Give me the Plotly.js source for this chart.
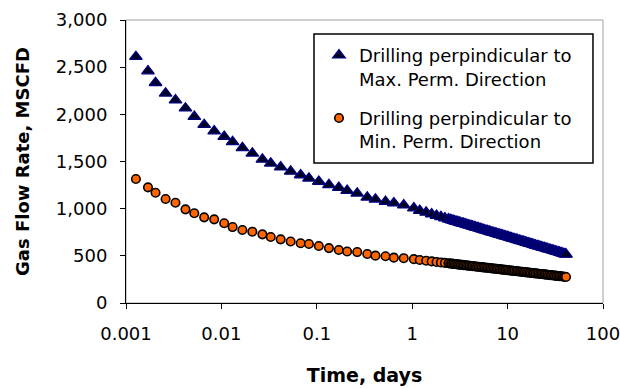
<!DOCTYPE html>
<html>
<head>
<meta charset="utf-8">
<script src="https://cdn.plot.ly/plotly-3.0.1.min.js"></script>
<style>html,body{margin:0;padding:0;background:#fff;}#chart{width:620px;height:389px;}</style>
</head>
<body>
<div id="chart"></div>
<script>
// Time, days (shared by both series)
var timeDays = [0.00127, 0.0017, 0.00204, 0.0026, 0.0033, 0.0042, 0.0052, 0.0066, 0.0084, 0.0107,
  0.0131, 0.0166, 0.0211, 0.0269, 0.0329, 0.0418, 0.0532, 0.0677, 0.0827, 0.105,
  0.134, 0.17, 0.208, 0.265, 0.338, 0.412, 0.525, 0.642, 0.815, 1.04,
  1.2, 1.4, 1.6, 1.8, 2, 2.2, 2.4,
  2.5, 2.59, 2.69, 2.79, 2.89, 3.0, 3.11, 3.22, 3.34, 3.46, 3.59, 3.72, 3.86, 4.0, 4.15, 4.3, 4.46, 4.62, 4.79, 4.97,
  5.15, 5.34, 5.54, 5.74, 5.95, 6.17, 6.4, 6.63, 6.88, 7.13, 7.39, 7.66, 7.95, 8.24, 8.54, 8.86, 9.18, 9.52, 9.87,
  10.2, 10.6, 11.0, 11.4, 11.8, 12.3, 12.7, 13.2, 13.7, 14.2, 14.7, 15.2, 15.8, 16.4, 17.0, 17.6, 18.3, 18.9, 19.6,
  20.4, 21.1, 21.9, 22.7, 23.5, 24.4, 25.3, 26.2, 27.2, 28.2, 29.2, 30.3, 31.4, 32.6, 33.8, 35.0, 36.3, 37.6, 39.0, 40.0, 41.0];

// Gas flow rate, MSCFD - drilling perpendicular to max. perm. direction
var rateMax = [2611, 2459, 2335, 2223, 2150, 2065, 1975, 1890, 1823, 1763,
  1708, 1645, 1587, 1522, 1481, 1440, 1395, 1357, 1322, 1288,
  1253, 1224, 1192, 1163, 1120, 1099, 1074, 1060, 1037, 1006,
  980, 960, 942, 927, 913, 900, 889,
  883, 879, 874, 869, 864, 860, 855, 850, 845, 841, 836, 831, 826, 822, 817, 812, 807, 803, 798, 793,
  788, 784, 779, 774, 769, 764, 760, 755, 750, 745, 741, 736, 731, 726, 722, 717, 712, 707, 703,
  698, 693, 688, 684, 679, 674, 669, 665, 660, 655, 650, 646, 641, 636, 631, 627, 622, 617, 612,
  607, 603, 598, 593, 588, 584, 579, 574, 569, 565, 560, 555, 550, 546, 541, 536, 531, 527, 522, 519, 515];

// Gas flow rate, MSCFD - drilling perpendicular to min. perm. direction
var rateMin = [1314, 1226, 1169, 1102, 1063, 993, 951, 908, 887, 845,
  805, 774, 756, 728, 700, 675, 652, 633, 625, 604,
  582, 562, 546, 540, 519, 502, 496, 481, 475, 465,
  456, 448, 441, 435, 430, 425, 421,
  418, 417, 415, 413, 411, 409, 407, 406, 404, 402, 400, 398, 396, 395, 393, 391, 389, 387, 385, 384,
  382, 380, 378, 376, 374, 373, 371, 369, 367, 365, 363, 362, 360, 358, 356, 354, 352, 351, 349,
  347, 345, 343, 341, 340, 338, 336, 334, 332, 330, 329, 327, 325, 323, 321, 319, 318, 316, 314,
  312, 310, 308, 307, 305, 303, 301, 299, 297, 296, 294, 292, 290, 288, 286, 285, 283, 281, 279, 278, 276];

var seriesNames = ["Drilling perpindicular to<br>Max. Perm. Direction",
                   "Drilling perpindicular to<br>Min. Perm. Direction"];

var xTickVals = [0.001, 0.01, 0.1, 1, 10, 100];
var xTickText = ["0.001", "0.01", "0.1", "1", "10", "100"];
var yTickVals = [0, 500, 1000, 1500, 2000, 2500, 3000];

var FONT = "DejaVu Sans, Liberation Sans, Arial, sans-serif";

var traces = [
  {
    type: "scatter", mode: "markers", name: seriesNames[0], legendgroup: "max",
    x: timeDays, y: rateMax,
    marker: {symbol: "triangle-up", size: 11, color: "#000022", line: {color: "#000080", width: 1.3}}
  },
  {
    type: "scatter", mode: "markers", name: seriesNames[1], legendgroup: "min",
    x: timeDays, y: rateMin,
    marker: {symbol: "circle", size: 8.5, color: "#FF6600", line: {color: "#000000", width: 1.6}}
  }
];

var layout = {
  width: 620, height: 389,
  margin: {l: 126, r: 17, t: 20, b: 86, pad: 0},
  paper_bgcolor: "#ffffff", plot_bgcolor: "#ffffff",
  font: {family: FONT, size: 18, color: "#000000"},
  showlegend: true,
  legend: {
    x: 0.4046, y: 0.94, xanchor: "left", yanchor: "top",
    bgcolor: "rgba(0,0,0,0)", borderwidth: 0,
    font: {family: FONT, size: 18, color: "#000000"},
    valign: "top", traceorder: "grouped", tracegroupgap: 13
  },
  xaxis: {
    type: "log", range: [-3, 2],
    tickvals: xTickVals, ticktext: xTickText,
    ticks: "outside", ticklen: 5, tickwidth: 1, tickcolor: "#000000",
    ticklabelstandoff: 9, ticklabeloverflow: "allow",
    showline: true, linecolor: "#000000", linewidth: 1,
    showgrid: false, zeroline: false,
    tickfont: {family: FONT, size: 18, color: "#000000"},
    title: {text: "Time, days", font: {family: FONT, size: 19, weight: "bold", color: "#000000"}, standoff: 26}
  },
  yaxis: {
    range: [0, 3000],
    tickvals: yTickVals, tickformat: ",d",
    ticks: "outside", ticklen: 5, tickwidth: 1, tickcolor: "#000000",
    ticklabelstandoff: 9,
    showline: true, linecolor: "#000000", linewidth: 1,
    showgrid: false, zeroline: false,
    tickfont: {family: FONT, size: 18, color: "#000000"},
    title: {text: "Gas Flow Rate, MSCFD", font: {family: FONT, size: 18, weight: "bold", color: "#000000"}, standoff: 21}
  },
  shapes: [
    {type: "rect", xref: "paper", yref: "paper", x0: 0, x1: 1, y0: 0, y1: 1,
     line: {color: "#a0a0a0", width: 1}, layer: "below"},
    {type: "rect", xref: "paper", yref: "paper", x0: 0.3941, x1: 0.979, y0: 0.4947, y1: 0.9505,
     line: {color: "#000000", width: 1.5}, fillcolor: "#ffffff", layer: "below"}
  ]
};

Plotly.newPlot("chart", traces, layout, {staticPlot: true, displayModeBar: false});
</script>
</body>
</html>
